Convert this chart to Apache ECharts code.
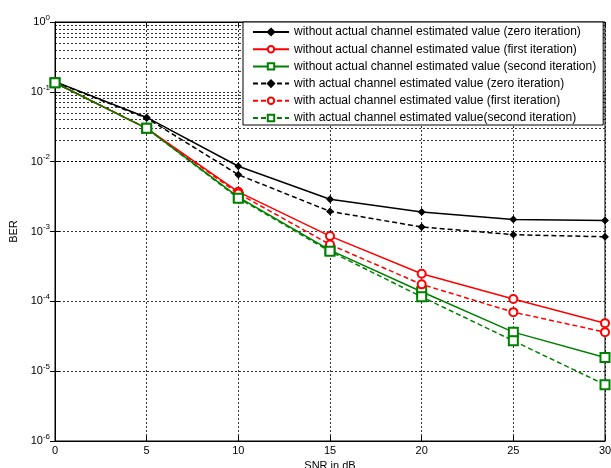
<!DOCTYPE html>
<html>
<head>
<meta charset="utf-8">
<script src="https://cdn.jsdelivr.net/npm/echarts@6/dist/echarts.min.js"></script>
<style>
  html, body { margin: 0; padding: 0; background: #fff; }
  #main { width: 611px; height: 468px; }
</style>
</head>
<body>
<div id="main"></div>
<script>
// SNR (dB) 和各曲线的 BER 数据
var snr = [0, 5, 10, 15, 20, 25, 30];
var woZero   = [0.140, 0.043, 0.0086, 0.0029, 0.0019, 0.00149, 0.00144];
var woFirst  = [0.135, 0.030, 0.0037, 0.00086, 0.000248, 0.000108, 0.0000487];
var woSecond = [0.135, 0.030, 0.0031, 0.00054, 0.000137, 0.0000362, 0.0000157];
var wZero    = [0.138, 0.042, 0.0065, 0.00194, 0.00116, 0.00090, 0.00084];
var wFirst   = [0.135, 0.030, 0.0035, 0.00065, 0.000175, 0.000070, 0.0000362];
var wSecond  = [0.135, 0.030, 0.0030, 0.00052, 0.000116, 0.0000272, 0.0000064];

var names = [
    'without actual channel estimated value (zero iteration)',
    'without actual channel estimated value (first iteration)',
    'without actual channel estimated value (second iteration)',
    'with actual channel estimated value (zero iteration)',
    'with actual channel estimated value (first iteration)',
    'with actual channel estimated value(second iteration)'
];

// 对数坐标的次网格线 (2..9 x 10^k)
var minorLines = [];
for (var k = -6; k < 0; k++) {
    for (var m = 2; m <= 9; m++) {
        minorLines.push({yAxis: m * Math.pow(10, k)});
    }
}

function pairs(arr) {
    return arr.map(function (v, i) { return [snr[i], v]; });
}

var gridDash = [2, 2];

function makeSeries(name, data, color, symbol, size, dashed) {
    return {
        name: name,
        type: 'line',
        data: pairs(data),
        symbol: symbol,
        symbolSize: size,
        showAllSymbol: true,
        color: color,
        lineStyle: {color: color, width: 1.5, type: dashed ? [5, 3] : 'solid'},
        itemStyle: {color: color, borderColor: color, borderWidth: 1.3},
        z: 3
    };
}

var series = [
    makeSeries(names[0], woZero, '#000000', 'diamond', 6, false),
    makeSeries(names[1], woFirst, '#ff0000', 'emptyCircle', 8, false),
    makeSeries(names[2], woSecond, '#008000', 'emptyRect', 9, false),
    makeSeries(names[3], wZero, '#000000', 'diamond', 6, true),
    makeSeries(names[4], wFirst, '#ff0000', 'emptyCircle', 8, true),
    makeSeries(names[5], wSecond, '#008000', 'emptyRect', 9, true)
];

// 次网格线挂在一个空系列上
series.push({
    type: 'line',
    data: [],
    silent: true,
    z: 1,
    markLine: {
        silent: true,
        symbol: 'none',
        z: 1,
        label: {show: false},
        lineStyle: {color: '#000', width: 0.8, type: gridDash},
        data: minorLines
    }
});

var chart = echarts.init(document.getElementById('main'));
chart.setOption({
    animation: false,
    backgroundColor: '#fff',
    textStyle: {fontFamily: 'Liberation Sans, Arial, sans-serif'},
    grid: {
        left: 55, right: 6, top: 22, bottom: 27,
        outerBoundsMode: 'none',
        containLabel: false,
        show: true, borderColor: '#000', borderWidth: 1
    },
    legend: {
        orient: 'vertical',
        left: 243,
        top: 22,
        z: 100,
        zlevel: 1,
        padding: [4, 7, 1, 9],
        itemGap: 5.2,
        itemWidth: 36,
        itemHeight: 8,
        backgroundColor: '#fff',
        borderColor: '#000',
        borderWidth: 1,
        textStyle: {fontSize: 12, lineHeight: 12, color: '#000', fontFamily: 'Liberation Sans, Arial, sans-serif'},
        data: names
    },
    xAxis: [{
        type: 'value',
        min: 0,
        max: 30,
        interval: 5,
        name: 'SNR in dB',
        nameLocation: 'middle',
        nameGap: 18,
        nameTextStyle: {fontSize: 11, color: '#000'},
        axisLine: {lineStyle: {color: '#000'}},
        axisTick: {inside: true, length: 5, lineStyle: {color: '#000'}},
        axisLabel: {fontSize: 11, color: '#000', margin: 4},
        splitLine: {show: true, lineStyle: {color: '#000', width: 0.8, type: gridDash}}
    }, {
        type: 'value',
        position: 'top',
        min: 0,
        max: 30,
        interval: 5,
        axisLine: {lineStyle: {color: '#000'}},
        axisTick: {inside: true, length: 5, lineStyle: {color: '#000'}},
        axisLabel: {show: false},
        splitLine: {show: false}
    }],
    yAxis: [{
        type: 'log',
        logBase: 10,
        min: 1e-6,
        max: 1,
        name: 'BER',
        nameLocation: 'middle',
        nameGap: 36,
        nameTextStyle: {fontSize: 11, color: '#000'},
        axisLine: {lineStyle: {color: '#000'}},
        axisTick: {inside: true, length: 5, lineStyle: {color: '#000'}},
        axisLabel: {
            color: '#000',
            margin: 5,
            formatter: function (v) {
                var e = Math.round(Math.log10(v));
                return '{b|10}{s|' + e + '}';
            },
            rich: {
                b: {fontSize: 11, color: '#000'},
                s: {fontSize: 8, color: '#000', padding: [0, 0, 9, 0]}
            }
        },
        splitLine: {show: true, lineStyle: {color: '#000', width: 0.8, type: gridDash}}
    }, {
        type: 'log',
        logBase: 10,
        min: 1e-6,
        max: 1,
        position: 'right',
        axisLine: {lineStyle: {color: '#000'}},
        axisTick: {inside: true, length: 5, lineStyle: {color: '#000'}},
        axisLabel: {show: false},
        splitLine: {show: false}
    }],
    series: series
});
</script>
</body>
</html>
